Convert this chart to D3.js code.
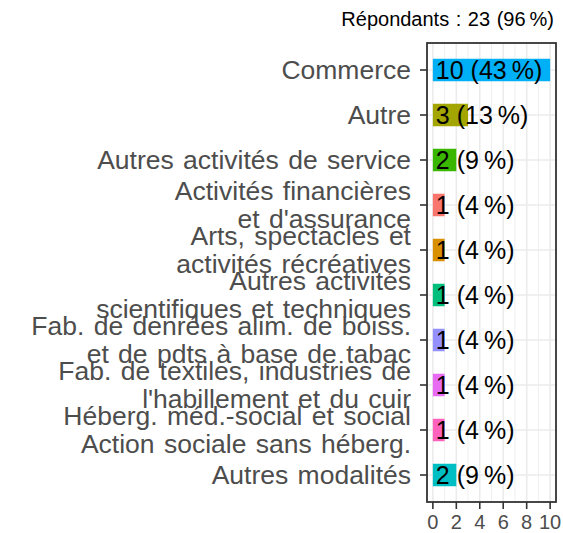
<!DOCTYPE html>
<html><head><meta charset="utf-8">
<script src="https://cdn.jsdelivr.net/npm/d3@7"></script>
<style>body{margin:0;background:#fff;} svg{display:block;font-family:"Liberation Sans",Arial,sans-serif;}</style>
</head><body>
<script>
const categories = ["Commerce","Autre","Autres activités de service","Activités financières\net d'assurance","Arts, spectacles et\nactivités récréatives","Autres activités\nscientifiques et techniques","Fab. de denrées alim. de boiss.\net de pdts à base de tabac","Fab. de textiles, industries de\nl'habillement et du cuir","Héberg. méd.-social et social\nAction sociale sans héberg.","Autres modalités"];
const counts = [10,3,2,1,1,1,1,1,1,2];
const percents = [43,13,9,4,4,4,4,4,4,9];
const colors = ["#00B0F6","#A3A500","#39B600","#F8766D","#D89000","#00BF7D","#9590FF","#E76BF3","#FF62BC","#00BFC4"];
const xTicks = [0,2,4,6,8,10];
const xMinor = [1,3,5,7,9];
const title = "Répondants : 23 (96\u202F%)";

const W=563,H=533;
const panel={l:427,r:556,t:43,b:502};
const svg=d3.select("body").append("svg").attr("width",W).attr("height",H);
const x=d3.scaleLinear().domain([-0.5,10.5]).range([panel.l,panel.r]);
const y=d3.scalePoint().domain(categories).range([panel.t,panel.b]).padding(0.6);
const bh=y.step()*0.5;

const g=svg.append("g");
g.append("rect").attr("x",panel.l).attr("y",panel.t).attr("width",panel.r-panel.l).attr("height",panel.b-panel.t).attr("fill","#fff");
g.selectAll(".minor").data(xMinor).join("line").attr("x1",d=>x(d)).attr("x2",d=>x(d)).attr("y1",panel.t).attr("y2",panel.b).attr("stroke","#EBEBEB").attr("stroke-width",0.8);
g.selectAll(".major").data(xTicks).join("line").attr("x1",d=>x(d)).attr("x2",d=>x(d)).attr("y1",panel.t).attr("y2",panel.b).attr("stroke","#EBEBEB").attr("stroke-width",1.6);
g.selectAll(".hmaj").data(categories).join("line").attr("x1",panel.l).attr("x2",panel.r).attr("y1",d=>y(d)).attr("y2",d=>y(d)).attr("stroke","#EBEBEB").attr("stroke-width",1.6);

g.selectAll(".bar").data(categories).join("rect")
 .attr("x",x(0)).attr("y",d=>y(d)-bh/2).attr("width",(d,i)=>x(counts[i])-x(0)).attr("height",bh)
 .attr("fill",(d,i)=>colors[i]);

g.selectAll(".lab").data(categories).join("text")
 .attr("x",x(0)+3).attr("y",d=>y(d)+9).attr("font-size",25).attr("fill","#000")
 .text((d,i)=>counts[i]+" ("+percents[i]+"\u202F%)");

g.append("rect").attr("x",panel.l).attr("y",panel.t).attr("width",panel.r-panel.l).attr("height",panel.b-panel.t).attr("fill","none").attr("stroke","#333").attr("stroke-width",1.8);

// y axis
const ya=svg.append("g");
categories.forEach(c=>{
  ya.append("line").attr("x1",panel.l-7).attr("x2",panel.l).attr("y1",y(c)).attr("y2",y(c)).attr("stroke","#333").attr("stroke-width",1.6);
  const lines=c.split("\n");
  const t=ya.append("text").attr("text-anchor","end").attr("font-size",26.5).attr("word-spacing",2).attr("fill","#4D4D4D");
  lines.forEach((ln,i)=>{
    t.append("tspan").attr("x",panel.l-16).attr("y",y(c)+9+(i-(lines.length-1)/2)*28).text(ln);
  });
});
// x axis
const xa=svg.append("g");
xTicks.forEach(v=>{
  xa.append("line").attr("x1",x(v)).attr("x2",x(v)).attr("y1",panel.b).attr("y2",panel.b+7).attr("stroke","#333").attr("stroke-width",1.6);
  xa.append("text").attr("x",x(v)).attr("y",529).attr("text-anchor","middle").attr("font-size",20).attr("fill","#4D4D4D").text(v);
});
svg.append("text").attr("x",554).attr("y",26).attr("text-anchor","end").attr("font-size",20).attr("word-spacing",1).attr("fill","#000").text(title);
</script>
</body></html>
